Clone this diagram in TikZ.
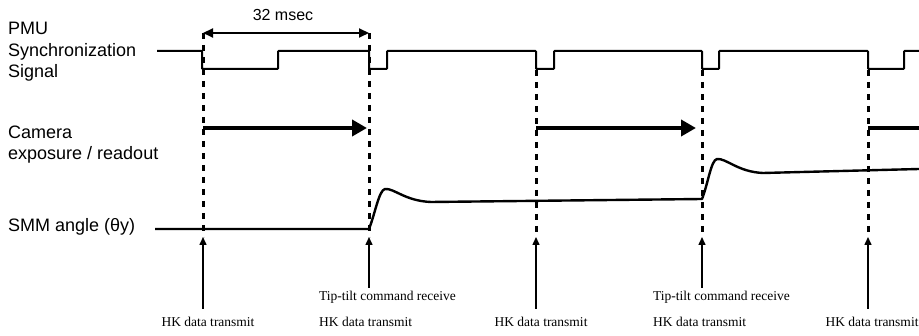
\documentclass[tikz,border=0pt]{standalone}
\usepackage{fontspec}
\setmainfont{Liberation Serif}
\setsansfont{Liberation Sans}
\usetikzlibrary{arrows.meta}
\begin{document}
\begin{tikzpicture}[x=1pt,y=-1pt,
  lbl/.style={font=\sffamily\fontsize{18}{21.5}\selectfont, align=left, anchor=west, inner sep=0},
  note/.style={font=\rmfamily\fontsize{13.5}{16}\selectfont, inner sep=0},
  sig/.style={line width=2pt, line join=miter},
  guide/.style={line width=3pt, dash pattern=on 6pt off 6pt},
  expo/.style={line width=4pt, -{Triangle[length=15pt,width=16pt]}},
  evt/.style={line width=1.5pt, -{Triangle[length=8pt,width=7pt]}},
  period/.style={line width=2pt, {Triangle[length=10pt,width=9pt]}-{Triangle[length=10pt,width=9pt]}},
]
\useasboundingbox (0,0) rectangle (919,336);

% left labels
\node[lbl] (pmu) at (8,52) {PMU\\Synchronization\\Signal};
\node[lbl] (cam) at (8,144.5) {Camera\\exposure / readout};
\node[lbl] (smm) at (8,227) {SMM angle (θy)};

% guide coordinates
\coordinate (t1) at (203,33);
\coordinate (t2) at (369,33);
\coordinate (t3) at (536,70);
\coordinate (t4) at (702,70);
\coordinate (t5) at (868,70);
\coordinate (b1) at (203,237);
\coordinate (b2) at (369,237);
\coordinate (b3) at (536,237);
\coordinate (b4) at (702,237);
\coordinate (b5) at (868,237);

% dashed guides
\foreach \i in {1,...,5} { \draw[guide] (t\i) -- (b\i); }

% period arrow
\node[font=\sffamily\fontsize{16}{19}\selectfont, inner sep=0] (ms) at (283,15) {32 msec};
\draw[period] (t1) -- (t2);

% PMU sync signal
\draw[sig, rounded corners=0.8pt] (157,51) -- (202,51) -- (202,69) -- (278,69) -- (278,51)
  -- (369,51) -- (369,69) -- (387,69) -- (387,51)
  -- (536,51) -- (536,69) -- (554,69) -- (554,51)
  -- (702,51) -- (702,69) -- (719,69) -- (719,51)
  -- (868,51) -- (868,69) -- (904,69) -- (904,51) -- (919,51);

% camera exposure arrows
\coordinate (c1s) at (203,128);
\coordinate (c1e) at (367,128);
\coordinate (c2s) at (536,128);
\coordinate (c2e) at (696,128);
\coordinate (c3s) at (868,128);
\coordinate (c3e) at (919,128);
\draw[expo] (c1s) -- (c1e);
\draw[expo] (c2s) -- (c2e);
\draw[line width=4pt] (c3s) -- (c3e);

% SMM angle
\draw[line width=2.4pt, line join=round] (155,229) -- (369,229)
  .. controls (375,214) and (379,190) .. (385,189)
  .. controls (394,188) and (405,201) .. (431,202)
  -- (702,199)
  .. controls (708,184) and (711,160) .. (717,159)
  .. controls (726,158) and (738,172) .. (763,173)
  -- (919,169);

% event arrows and labels
\coordinate (a1) at (203,309);
\coordinate (a2) at (369,288);
\coordinate (a3) at (536,309);
\coordinate (a4) at (702,288);
\coordinate (a5) at (868,309);
\foreach \i in {1,...,5} { \draw[evt] (a\i) -- (b\i); }

\node[note] (hk1) at (208,322) {HK data transmit};
\node[note, anchor=west] (tt2) at (319,297) {Tip-tilt command receive};
\node[note, anchor=west] (hk2) at (319,322) {HK data transmit};
\node[note] (hk3) at (541,322) {HK data transmit};
\node[note, anchor=west] (tt4) at (653,297) {Tip-tilt command receive};
\node[note, anchor=west] (hk4) at (653,322) {HK data transmit};
\node[note] (hk5) at (872,322) {HK data transmit};
\end{tikzpicture}
\end{document}
